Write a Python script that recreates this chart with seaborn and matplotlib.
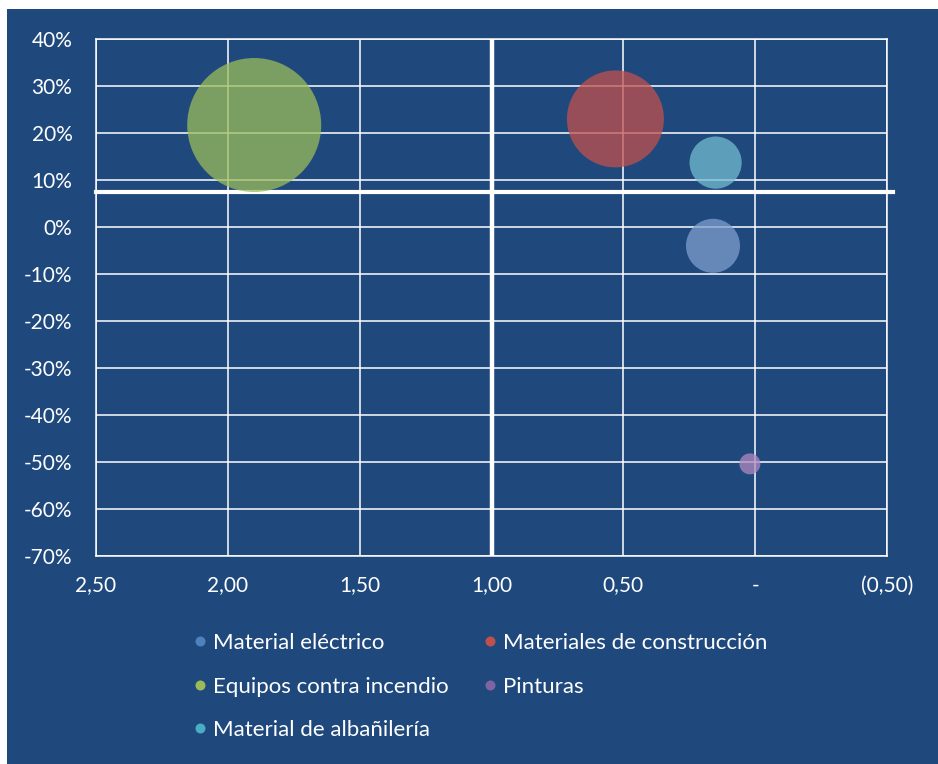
import matplotlib
matplotlib.use("Agg")
import matplotlib.pyplot as plt
import matplotlib.patches as mpatches
from matplotlib.lines import Line2D
from matplotlib.ticker import FuncFormatter, MultipleLocator
import seaborn as sns
import pandas as pd

# ---- data ----
categories = ["Material eléctrico", "Materiales de construcción",
              "Equipos contra incendio", "Pinturas", "Material de albañilería"]
x_values = [0.16, 0.53, 1.90, 0.02, 0.15]          # ratio (eje X, invertido)
y_values = [-4.0, 23.0, 21.7, -50.4, 13.7]          # variación %
bubble_sizes = [7.3, 23.5, 44.9, 1.1, 6.8]          # tamaño de burbuja
ref_x = 1.0
ref_y = 7.4

legend_colors = ["#4F81BD", "#C0504D", "#9BBB59", "#8064A2", "#4BACC6"]
bubble_colors = ["#7E9ECD", "#C0504D", "#9BBB59", "#B088C0", "#73BDD1"]

BG = "#1F497D"
FONT = "Lato"
plt.rcParams["font.family"] = [FONT, "DejaVu Sans"]

df = pd.DataFrame({"cat": categories, "x": x_values, "y": y_values, "size": bubble_sizes})

fig = plt.figure(figsize=(9.38, 7.64), dpi=100)
fig.patch.set_facecolor("white")
fig.patches.append(mpatches.Rectangle((7 / 938, 0), 1, 1 - 9 / 764,
                                      transform=fig.transFigure, facecolor=BG,
                                      edgecolor="none", zorder=-10))

ax = fig.add_axes([96 / 938, 1 - 556 / 764, (887 - 96) / 938, (556 - 39) / 764])
ax.set_zorder(2)
ax.set_facecolor(BG)

smax = (2 * 67 * 0.72) ** 2
sns.scatterplot(data=df, x="x", y="y", hue="cat", size="size",
                palette=dict(zip(categories, bubble_colors)),
                sizes=(0, smax), size_norm=(0, max(bubble_sizes)),
                alpha=0.75, edgecolor="none", linewidth=0, legend=False,
                ax=ax, zorder=3)

ax.set_xlim(2.5, -0.5)
ax.set_ylim(-70, 40)
ax.xaxis.set_major_locator(MultipleLocator(0.5))
ax.yaxis.set_major_locator(MultipleLocator(10))


def fmt_x(v, pos):
    if abs(v) < 1e-9:
        return "-"
    s = f"{abs(v):.2f}".replace(".", ",")
    return f"({s})" if v < 0 else s


ax.xaxis.set_major_formatter(FuncFormatter(fmt_x))
ax.yaxis.set_major_formatter(FuncFormatter(lambda v, p: f"{v:.0f}%"))

ax.grid(True, color="white", linewidth=1.1, zorder=1)
ax.set_axisbelow(True)
for sp in ax.spines.values():
    sp.set_color("white")
    sp.set_linewidth(1.1)

ax.tick_params(axis="both", length=0, colors="white", labelsize=15)
ax.tick_params(axis="y", pad=17)
ax.tick_params(axis="x", pad=14)
ax.set_xlabel("")
ax.set_ylabel("")

# reference lines
ax.axvline(ref_x, color="white", linewidth=3.2, zorder=2)
ax.plot([2.5, -0.523], [ref_y, ref_y], color="white", linewidth=3.0,
        clip_on=False, zorder=2)

# legend (row-wise order like Excel, 2 columns)
order = [0, 2, 4, 1, 3]
handles = [Line2D([0], [0], marker="o", linestyle="none", markersize=7.2,
                  markerfacecolor=legend_colors[i], markeredgecolor="none",
                  label=categories[i]) for i in order]
leg = fig.legend(handles=handles, loc="upper left",
                 bbox_to_anchor=(193 / 938, 1 - 633 / 764), ncol=2,
                 frameon=False, handlelength=0.6, handletextpad=0.28,
                 columnspacing=1.6, labelspacing=1.06, borderaxespad=0,
                 borderpad=0, prop={"family": FONT, "size": 16.0})
for t in leg.get_texts():
    t.set_color("white")

fig.savefig("out.png", dpi=100, facecolor=fig.get_facecolor())
